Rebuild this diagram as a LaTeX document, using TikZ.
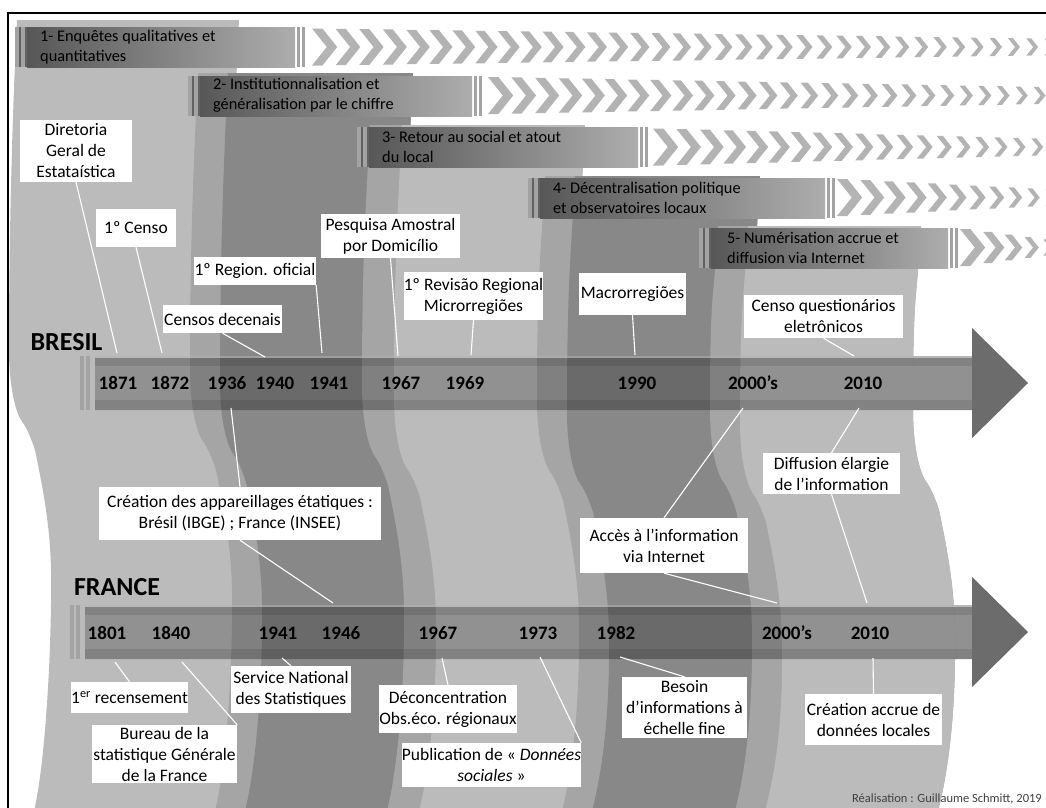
\documentclass[tikz,border=0pt]{standalone}
\usepackage{fontspec}
\setmainfont{Carlito}
\usepackage{tikz}
\usetikzlibrary{positioning}

\definecolor{bandlight}{HTML}{BBBBBB}
\definecolor{bandrim}{HTML}{A5A5A5}
\definecolor{banddark}{HTML}{888888}
\definecolor{chevgray}{HTML}{B3B3B3}
\definecolor{hdark}{HTML}{575757}
\definecolor{hlight}{HTML}{ADADAD}
\definecolor{stripegray}{HTML}{A3A3A3}

% one curved band: colour, left x, left step, right x, right step, top
\newcommand{\bandfill}[6]{%
\fill[#1] (#2+8,#6) .. controls (#2+4,#6+80) and (#2,#3-200) .. (#2,#3-70)
  .. controls (#2,#3-35) and (#2+6,#3-10) .. (#2+12,#3)
  .. controls (#2+18,#3+8) and (#2+22,#3+18) .. (#2+26,#3+30)
  .. controls (#2+32,#3+60) and (#2+41,#3+100) .. (#2+42,#3+150)
  .. controls (#2+43,#3+230) and (#2+36,770) .. (#2+24,815)
  -- (#4+24,815)
  .. controls (#4+36,770) and (#4+43,#5+230) .. (#4+42,#5+150)
  .. controls (#4+41,#5+100) and (#4+32,#5+60) .. (#4+26,#5+30)
  .. controls (#4+22,#5+18) and (#4+18,#5+8) .. (#4+12,#5)
  .. controls (#4+6,#5-10) and (#4,#5-35) .. (#4,#5-70)
  .. controls (#4,#5-200) and (#4+4,#6+80) .. (#4+8,#6) -- cycle;}

\begin{document}
\begin{tikzpicture}[x=1pt,y=-1pt,
  labelbox/.style={fill=white, align=center, inner sep=0pt, font=\fontsize{17.5}{21}\selectfont},
  headtext/.style={anchor=west, align=left, inner sep=0pt, font=\fontsize{16.3}{20}\selectfont},
  year/.style={inner sep=0pt, font=\fontsize{19}{22}\selectfont\bfseries},
  country/.style={inner sep=0pt, font=\fontsize{26}{30}\selectfont\bfseries},
  leader/.style={draw=white, line width=1.1pt},
  chevron/.style={fill=chevgray},
  stripe/.style={fill=stripegray},
  arrowbase/.style={fill=bandlight},
  arrowbody/.style={fill=black, fill opacity=0.22},
  arrowedge/.style={fill=black, fill opacity=0.1},
  arrowshine/.style={draw=white, draw opacity=0.35, line width=1.5pt},
  arrowtip/.style={fill=black, fill opacity=0.25}]
\useasboundingbox (0,0) rectangle (1046,807);

% arrows seen over the white part
\foreach \xa/\yc in {95/383, 85/632}{
  \fill[arrowbase] (\xa,\yc-27) -- (972,\yc-27) -- (972,\yc-55) -- (1028,\yc) -- (972,\yc+55) -- (972,\yc+27) -- (\xa,\yc+27) -- cycle;
}

% bands
\bandfill{bandlight}{9}{420}{231}{420}{20}
\bandfill{bandrim}{190}{440}{405}{440}{73}
\bandfill{banddark}{220}{452}{405}{440}{73}
\bandfill{bandrim}{362}{455}{577}{455}{125}
\bandfill{bandlight}{394}{467}{577}{455}{125}
\bandfill{bandrim}{537}{470}{752}{470}{176}
\bandfill{banddark}{567}{482}{752}{470}{176}
\bandfill{bandrim}{710}{480}{913}{480}{226}
\bandfill{bandlight}{740}{492}{913}{480}{226}

% period bars
\foreach \xa/\xb/\ya in {15/295/27, 188/472/76, 357/638/127, 528/825/178, 699/948/228}{
  \fill[stripegray!60!black] (\xa,\ya) rectangle (\xa+12,\ya+40);
  \fill[stripe] (\xa,\ya) rectangle (\xa+4,\ya+40);
  \fill[stripe] (\xa+6,\ya) rectangle (\xa+10,\ya+40);
  \shade[left color=hdark, right color=hlight] (\xa+12,\ya) rectangle (\xb,\ya+40);
  \fill[stripe] (\xb+2,\ya) rectangle (\xb+5,\ya+40);
  \fill[stripe] (\xb+7,\ya) rectangle (\xb+10,\ya+40);
}

% chevrons
\foreach \xs/\yc/\n in {312/47/35, 488/95.5/27, 653/147/19, 837/197.5/10, 960/247.5/4}{
  \pgfmathsetmacro\cL{1040-\xs}
  \pgfmathsetmacro\cb{6/\cL}
  \foreach \i in {0,...,\n}{
    \pgfmathsetmacro\cx{\xs+24.1/\cb*(1-exp(-\cb*\i))}
    \pgfmathsetmacro\ch{37-20*(\cx-\xs)/\cL}
    \pgfmathsetmacro\cw{0.68*\ch}
    \pgfmathsetmacro\ct{0.28*\ch}
    \fill[chevron] (\cx,\yc-\ch/2) -- (\cx+\ct,\yc-\ch/2) -- (\cx+\cw,\yc) -- (\cx+\ct,\yc+\ch/2) -- (\cx,\yc+\ch/2) -- (\cx+\cw-\ct,\yc) -- cycle;
  }
}

\node[headtext] (enquetes) at (40,47) {1- Enquêtes qualitatives et\\quantitatives};
\node[headtext] (institution) at (213,95.5) {2- Institutionnalisation et\\généralisation par le chiffre};
\node[headtext] (retour) at (382,147) {3- Retour au social et atout\\du local};
\node[headtext] (decentral) at (553,197.5) {4- Décentralisation politique\\et observatoires locaux};
\node[headtext] (numerisation) at (727,247.5) {5- Numérisation accrue et\\diffusion via Internet};

% timelines
\foreach \xa/\yc in {95/383, 85/632}{
  \fill[arrowbody] (\xa,\yc-27) -- (972,\yc-27) -- (972,\yc-55) -- (1028,\yc) -- (972,\yc+55) -- (972,\yc+27) -- (\xa,\yc+27) -- cycle;
  \fill[arrowedge] (\xa,\yc-25) rectangle (972,\yc-17);
  \fill[arrowedge] (\xa,\yc+17) rectangle (972,\yc+27);
  \draw[arrowshine] (\xa,\yc-26) -- (972,\yc-26);
  \fill[arrowtip] (972,\yc-55) -- (1028,\yc) -- (972,\yc+55) -- cycle;
  \fill[stripe] (\xa-15,\yc-27) rectangle ++(4,54);
  \fill[stripe] (\xa-9,\yc-27) rectangle ++(4,54);
}

\node[country] (bresil) at (66.5,342) {BRESIL};
\node[country] (france) at (117,587) {FRANCE};

\node[year] (bra1871) at (118,383) {1871};
\node[year] (bra1872) at (170,383) {1872};
\node[year] (bra1936) at (227,383) {1936};
\node[year] (bra1940) at (275,383) {1940};
\node[year] (bra1941) at (329,383) {1941};
\node[year] (bra1967) at (401,383) {1967};
\node[year] (bra1969) at (465,383) {1969};
\node[year] (bra1990) at (637,383) {1990};
\node[year] (bra2000) at (753,383) {2000’s};
\node[year] (bra2010) at (863,383) {2010};

\node[year] (fra1801) at (107,633) {1801};
\node[year] (fra1840) at (171,633) {1840};
\node[year] (fra1941) at (278,633) {1941};
\node[year] (fra1946) at (341,633) {1946};
\node[year] (fra1967) at (438,633) {1967};
\node[year] (fra1973) at (538,633) {1973};
\node[year] (fra1982) at (616,633) {1982};
\node[year] (fra2000) at (787,633) {2000’s};
\node[year] (fra2010) at (870,633) {2010};

% leader ends on the timelines
\coordinate (b1871) at (117,353);
\coordinate (b1872) at (162,353);
\coordinate (b1936) at (231,408);
\coordinate (b1940) at (265,357);
\coordinate (b1941) at (322,353);
\coordinate (b1967) at (398,356);
\coordinate (b1969) at (471,355);
\coordinate (b1990) at (635,355);
\coordinate (b2000) at (743,408);
\coordinate (b2010u) at (854,356);
\coordinate (b2010d) at (859,408);
\coordinate (f1801) at (115,662);
\coordinate (f1840) at (182,662);
\coordinate (f1941) at (282,658);
\coordinate (f1946) at (333,603);
\coordinate (f1967) at (442,658);
\coordinate (f1973) at (540,657);
\coordinate (f1982) at (620,657);
\coordinate (f2000) at (777,603);
\coordinate (f2010u) at (867,603);
\coordinate (f2010d) at (873,658);

% Brazil
\node[labelbox, minimum width=112pt, minimum height=62pt] (diretoria) at (76,151) {Diretoria\\Geral de\\Estataística};
\node[labelbox, minimum width=80pt, minimum height=38pt] (censo1) at (136,228) {1º Censo};
\node[labelbox, minimum width=122pt, minimum height=28pt] (region1) at (255,271) {1º Region. oficial};
\node[labelbox, minimum width=119pt, minimum height=28pt] (censos) at (222.5,319) {Censos decenais};
\node[labelbox, minimum width=139pt, minimum height=44pt] (pesquisa) at (390.5,236) {Pesquisa Amostral\\por Domicílio};
\node[labelbox, minimum width=139pt, minimum height=48pt] (revisao) at (473.5,296) {1º Revisão Regional\\Microrregiões};
\node[labelbox, minimum width=107pt, minimum height=42pt] (macro) at (632.5,294) {Macrorregiões};
\node[labelbox, minimum width=159pt, minimum height=43pt] (censoq) at (823.5,316.5) {Censo questionários\\eletrônicos};

% shared
\node[labelbox, minimum width=282pt, minimum height=53pt] (criacao) at (240,513.5) {Création des appareillages étatiques :\\Brésil (IBGE) ; France (INSEE)};
\node[labelbox, minimum width=168pt, minimum height=55pt] (acces) at (664,545.5) {Accès à l’information\\via Internet};
\node[labelbox, minimum width=137pt, minimum height=41pt] (diffusion) at (831.5,473.5) {Diffusion élargie\\de l’information};

% France
\node[labelbox, minimum width=117pt, minimum height=31pt] (recens) at (129.5,697.5) {1\textsuperscript{er} recensement};
\node[labelbox, minimum width=145pt, minimum height=58pt] (bureau) at (164.5,754) {Bureau de la\\statistique Générale\\de la France};
\node[labelbox, minimum width=120pt, minimum height=47pt] (service) at (291,689.5) {Service National\\des Statistiques};
\node[labelbox, minimum width=138pt, minimum height=48pt] (deconc) at (448,709) {Déconcentration\\Obs.éco. régionaux};
\node[labelbox, minimum width=173pt, minimum height=44pt] (publi) at (491.5,765) {Publication de « \textit{Données}\\\textit{sociales} »};
\node[labelbox, minimum width=125pt, minimum height=61pt] (besoin) at (684.5,707.5) {Besoin\\d’informations à\\échelle fine};
\node[labelbox, minimum width=137pt, minimum height=51pt] (creacc) at (873.5,719.5) {Création accrue de\\données locales};

\draw[leader] (diretoria.south) -- (b1871);
\draw[leader] (censo1.south) -- (b1872);
\draw[leader] (censos.south) -- (b1940);
\draw[leader] (region1.south east) -- (b1941);
\draw[leader] (pesquisa.south) -- (b1967);
\draw[leader] (revisao.south) -- (b1969);
\draw[leader] (macro.south) -- (b1990);
\draw[leader] (censoq.south) -- (b2010u);
\draw[leader] (criacao.north) -- (b1936);
\draw[leader] (criacao.south) -- (f1946);
\draw[leader] (acces.north) -- (b2000);
\draw[leader] (acces.south) -- (f2000);
\draw[leader] (diffusion.north) -- (b2010d);
\draw[leader] (diffusion.south) -- (f2010u);
\draw[leader] (recens.north) -- (f1801);
\draw[leader] (bureau.north east) -- (f1840);
\draw[leader] (service.north) -- (f1941);
\draw[leader] (deconc.north) -- (f1967);
\draw[leader] (publi.north east) -- (f1973);
\draw[leader] (besoin.north) -- (f1982);
\draw[leader] (creacc.north) -- (f2010d);

\node[anchor=east, inner sep=0pt, text=black!75, font=\fontsize{12.5}{14}\selectfont] (credit) at (1042,799) {Réalisation : Guillaume Schmitt, 2019};

\draw[line width=1.2pt] (8,13) rectangle (1070,830);
\end{tikzpicture}
\end{document}
